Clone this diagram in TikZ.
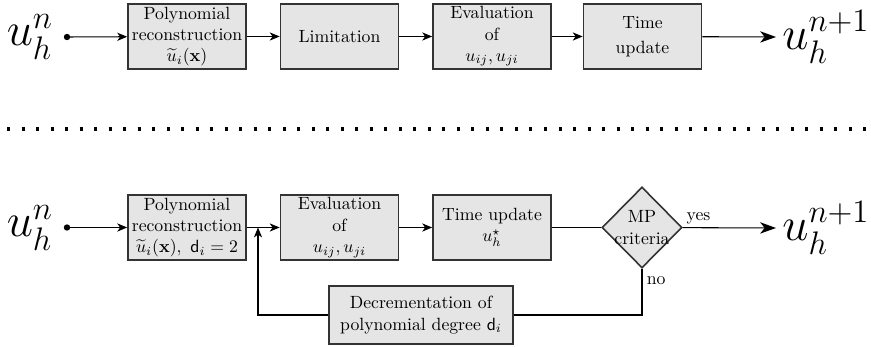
\documentclass[tikz,border=0pt]{standalone}
\usepackage{amsmath}
\usepackage{graphicx}
\usetikzlibrary{arrows.meta,shapes.geometric,calc}
\newcommand{\bigmath}[1]{\scalebox{1.28}{\huge $#1$}}
\begin{document}
\begin{tikzpicture}[x=0.565pt,y=-0.565pt,
  blk/.style={draw=black!80,line width=0.9pt,fill=gray!20,minimum width=66.7pt,minimum height=36.7pt,inner sep=1pt,align=center},
  conn/.style={line width=0.6pt,-{Stealth[length=5.6pt,width=4.6pt,inset=1.6pt]}},
  bigconn/.style={line width=0.6pt,-{Stealth[length=9pt,width=6.4pt,inset=2.6pt]}},
  plain/.style={line width=0.6pt},
  big/.style={inner sep=0pt}]
\useasboundingbox (0,0) rectangle (871,347);
% top row
\node[big] (a0) at (30,37) {\bigmath{u_h^n}};
\fill (67,37) circle (3.2) coordinate (d0);
\node[blk] (a1) at (187,36.5) {Polynomial\\reconstruction\\$\widetilde{u}_i(\mathbf{x})$};
\node[blk] (a2) at (339.5,36.5) {Limitation};
\node[blk] (a3) at (492,36.5) {Evaluation\\of\\$u_{ij},u_{ji}$};
\node[blk] (a4) at (642.5,36.5) {Time\\[2pt]update};
\node[big] (a5) at (826,37) {\bigmath{u_h^{n+1}}};
\draw[conn] (d0) -- (a1);
\draw[conn] (a1) -- (a2);
\draw[conn] (a2) -- (a3);
\draw[conn] (a3) -- (a4);
\draw[bigconn] (a4) -- ($(a5.west)+(-6,0)$);
% separator
\coordinate (s0) at (7,129);
\coordinate (s1) at (866,129);
\draw[line width=1.7pt,dash pattern=on 1.7pt off 6.5pt] (s0) -- (s1);
% bottom row
\node[big] (b0) at (30,228) {\bigmath{u_h^n}};
\fill (67,227.5) circle (3.2) coordinate (e0);
\node[blk] (b1) at (187,227.5) {Polynomial\\reconstruction\\$\widetilde{u}_i(\mathbf{x}),\ \mathsf{d}_i=2$};
\node[blk] (b2) at (339.5,227.5) {Evaluation\\of\\$u_{ij},u_{ji}$};
\node[blk] (b3) at (492,227.5) {Time update\\$u_h^{\star}$};
\node[diamond,draw=black!80,line width=0.9pt,fill=gray!20,minimum width=45.2pt,minimum height=45.8pt,inner sep=0pt] (mp) at (642,227.5) {};
\node[align=center,inner sep=0pt] (mpt) at (642,227.5) {MP\\criteria};
\node[big] (b5) at (826,228) {\bigmath{u_h^{n+1}}};
\node[blk,minimum width=104pt,minimum height=32.8pt] (dec) at (421,315) {Decrementation of\\polynomial degree $\mathsf{d}_i$};
\coordinate (j) at (258,227.5);
\draw[conn] (e0) -- (b1);
\draw[conn] (b1) -- (b2);
\draw[conn] (b2) -- (b3);
\draw[plain] (b3) -- (mp);
\draw[bigconn] (mp) -- node[above,pos=0.17,inner sep=2pt] (yes) {yes} ($(b5.west)+(-6,0)$);
\draw[plain] (mp.south) -- (mp.south |- dec.east) -- (dec.east);
\node[anchor=west,inner sep=2pt] (no) at ($(mp.south)+(1,12)$) {no};
\draw[conn] (dec.west) -| (j);
\end{tikzpicture}
\end{document}
